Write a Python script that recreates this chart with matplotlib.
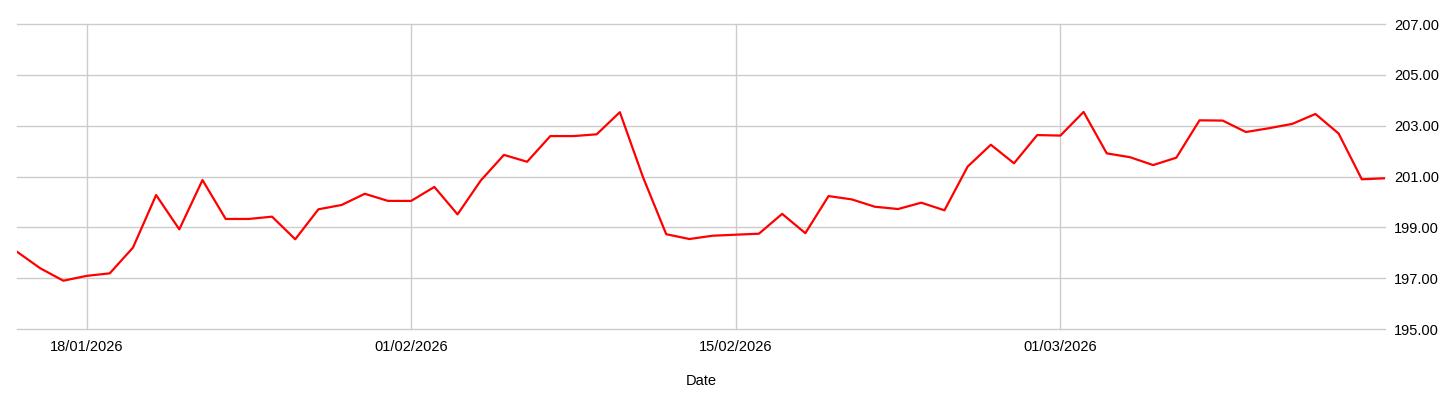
import matplotlib.pyplot as plt
import matplotlib.dates as mdates
import pandas as pd

plt.rcParams['font.family'] = ['Liberation Sans', 'DejaVu Sans']

# daily closing values, 15/01/2026 .. 15/03/2026
dates = pd.date_range("2026-01-15", "2026-03-15", freq="D")
values = [
    198.04, 197.39, 196.90, 197.09, 197.19, 198.20, 200.27, 198.92, 200.86, 199.33,
    199.33, 199.42, 198.53, 199.71, 199.88, 200.32, 200.04, 200.04, 200.59, 199.51,
    200.84, 201.85, 201.58, 202.59, 202.59, 202.66, 203.53, 200.97, 198.73, 198.54,
    198.67, 198.71, 198.75, 199.53, 198.77, 200.23, 200.10, 199.81, 199.72, 199.97,
    199.67, 201.39, 202.25, 201.52, 202.63, 202.61, 203.54, 201.91, 201.76, 201.45,
    201.74, 203.21, 203.20, 202.75, 202.90, 203.07, 203.46, 202.69, 200.89, 200.93,
]
x_ticks = ["2026-01-18", "2026-02-01", "2026-02-15", "2026-03-01"]
y_ticks = [195, 197, 199, 201, 203, 205, 207]

W, H = 1456, 405
fig = plt.figure(figsize=(W / 100, H / 100), dpi=100)
ax = fig.add_axes([17 / W, 1 - 329 / H, (1385 - 17) / W, (329 - 24) / H])

ax.plot(dates, values, color="#ff0000", linewidth=1.6)

ax.set_xlim(dates[0], dates[-1])
ax.set_ylim(195, 207)
ax.set_xticks(pd.to_datetime(x_ticks))
ax.xaxis.set_major_formatter(mdates.DateFormatter("%d/%m/%Y"))
ax.set_yticks(y_ticks)
ax.set_yticklabels([f"{v:.2f}" for v in y_ticks])
ax.yaxis.tick_right()

ax.grid(True, color="#cccccc", linewidth=1)
for g in ax.get_xgridlines() + ax.get_ygridlines():
    g.set_clip_on(False)
ax.set_axisbelow(True)
for s in ax.spines.values():
    s.set_visible(False)
ax.tick_params(length=0, labelsize=10.5, colors="#000000")
ax.tick_params(axis="y", pad=6.5)
ax.tick_params(axis="x", pad=8)
ax.set_xlabel("Date", fontsize=10.5, labelpad=14)

fig.savefig("out.png", dpi=100)
